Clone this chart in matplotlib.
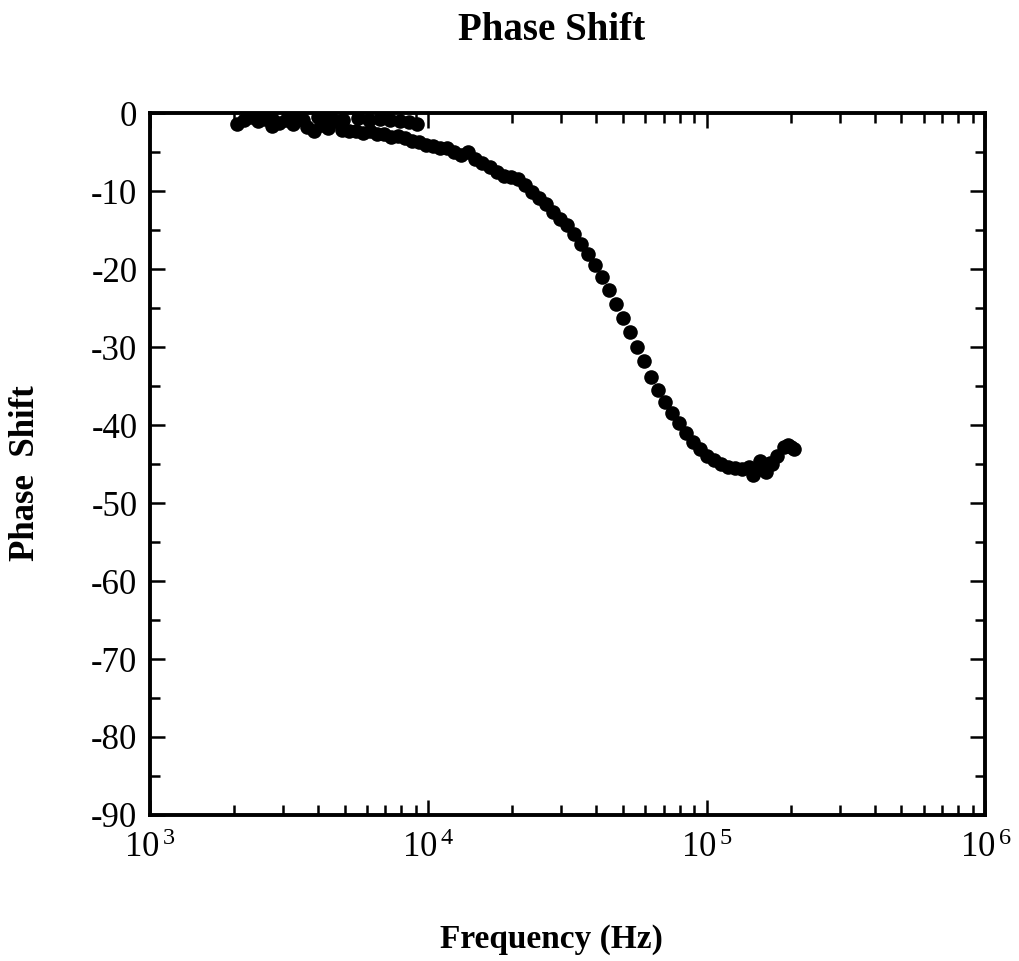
import numpy as np
import matplotlib
matplotlib.use("Agg")
import matplotlib.pyplot as plt
from matplotlib.ticker import LogLocator, MultipleLocator, FixedLocator

# main measured curve (frequency in Hz, phase in degrees)
freq = [2055, 2178, 2308, 2446, 2593, 2748, 2911, 3085, 3269, 3464,
        3671, 3890, 4122, 4369, 4629, 4905, 5198, 5508, 5836, 6185,
        6554, 6945, 7359, 7799, 8264, 8757, 9282, 9836, 10420, 11045,
        11704, 12403, 13143, 13928, 14759, 15640, 16574, 17563, 18611, 19722,
        20899, 22147, 23469, 24870, 26354, 27928, 29595, 31361, 33233, 35217,
        37319, 39547, 41908, 44409, 47060, 49870, 52847, 56001, 59344, 62887,
        66641, 70619, 74834, 79301, 84035, 89051, 94367, 100000, 105970, 112296,
        118999, 126103, 133630, 141607, 150060, 159018, 168510, 178569, 189229, 200525]
phase = [-1.3, -0.8, -0.5, -1.0, -0.7, -1.6, -1.2, -0.9, -1.4, -0.6,
         -1.7, -2.3, -1.5, -1.9, -1.0, -2.1, -2.3, -2.2, -2.5, -2.3,
         -2.6, -2.7, -3.0, -2.9, -3.2, -3.5, -3.7, -4.0, -4.2, -4.5,
         -4.4, -4.9, -5.4, -5.0, -5.8, -6.4, -6.9, -7.5, -8.0, -8.2,
         -8.4, -9.2, -10.1, -10.8, -11.6, -12.6, -13.6, -14.3, -15.5, -16.8,
         -18.0, -19.5, -21.0, -22.6, -24.5, -26.3, -28.0, -30.0, -31.8, -33.8,
         -35.5, -37.0, -38.4, -39.7, -41.0, -42.2, -43.1, -43.9, -44.5, -45.0,
         -45.3, -45.5, -45.6, -45.4, -45.8, -45.2, -44.8, -43.9, -42.8, -42.8]

# scattered extra readings (upper layer at low freq, cluster near the minimum)
freq_extra = [2400, 2750, 3150, 3550, 4000, 4450, 4950, 5600, 6100, 6700,
              7300, 7900, 8500, 9100, 146000, 155000, 163000, 172000, 196000, 205000]
phase_extra = [-0.4, -0.7, -0.3, -0.8, -0.5, -0.4, -0.9, -0.6, -0.8, -0.7,
               -0.9, -1.0, -1.1, -1.3, -46.4, -44.6, -46.0, -45.0, -42.5, -43.0]

plt.rcParams["font.family"] = ["Liberation Serif", "DejaVu Serif"]
plt.rcParams["mathtext.fontset"] = "custom"
plt.rcParams["mathtext.rm"] = "Liberation Serif"
plt.rcParams["mathtext.it"] = "Liberation Serif"
plt.rcParams["axes.unicode_minus"] = False

fig = plt.figure(figsize=(10.2, 9.61), dpi=100)
ax = fig.add_axes([0.147, 0.152, 0.819, 0.730])

ax.plot(freq, phase, "o", color="black", markersize=10.5, markeredgewidth=0)
ax.plot(freq_extra, phase_extra, "o", color="black", markersize=10.5, markeredgewidth=0)

ax.set_xscale("log")
ax.set_xlim(1e3, 1e6)
ax.set_ylim(-90, 0)
ax.yaxis.set_major_locator(MultipleLocator(10))
ax.yaxis.set_minor_locator(MultipleLocator(5))
ax.xaxis.set_major_locator(FixedLocator([1e3, 1e4, 1e5, 1e6]))
ax.xaxis.set_minor_locator(LogLocator(base=10, subs=np.arange(2, 10), numticks=20))
ax.set_xticklabels([r"$10^{\,3}$", r"$10^{\,4}$", r"$10^{\,5}$", r"$10^{\,6}$"])

for s in ax.spines.values():
    s.set_linewidth(2.8)
ax.tick_params(which="both", direction="in", top=True, right=True, width=1.8)
ax.tick_params(which="major", length=11)
ax.tick_params(which="minor", length=7)
ax.tick_params(axis="x", which="major", labelsize=25, pad=12)
ax.tick_params(axis="y", which="major", labelsize=25, pad=9)

fig.text(0.541, 0.968, "Phase Shift", ha="center", va="center",
         fontsize=28, fontweight="bold")
fig.text(0.541, 0.022, "Frequency (Hz)", ha="center", va="center",
         fontsize=24, fontweight="bold")
fig.text(0.025, 0.508, "Phase  Shift", ha="center", va="center",
         rotation=90, fontsize=25, fontweight="bold")

plt.savefig("out.png", dpi=100)
plt.close()
